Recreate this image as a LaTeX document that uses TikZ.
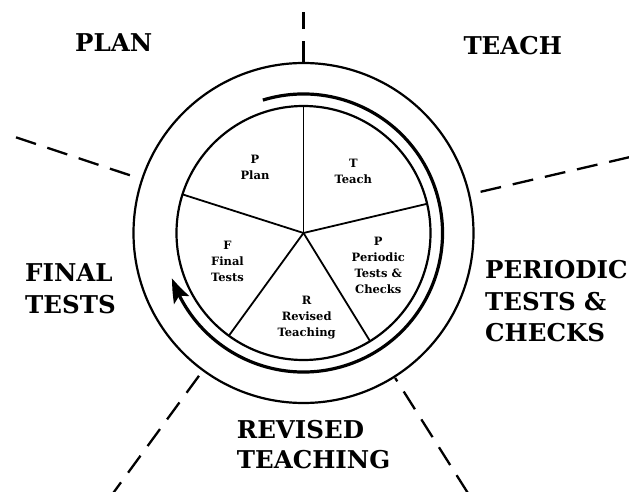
\documentclass[tikz,border=0pt]{standalone}
\usepackage{fontspec}
\setmainfont{DejaVu Serif}
\usetikzlibrary{arrows.meta,bending}
\begin{document}
\begin{tikzpicture}[x=1pt,y=1pt,
  big/.style={font=\fontsize{24.5}{30}\selectfont\bfseries, anchor=base west, inner sep=0pt},
  small/.style={font=\fontsize{11.5}{16}\selectfont\bfseries, align=center, inner sep=0pt},
  ring/.style={line width=2.2pt},
  divider/.style={line width=1.8pt},
  guide/.style={line width=2.3pt, dash pattern=on 21pt off 12pt},
  cycle/.style={line width=3.2pt, -{Stealth[length=24pt,width=17pt,inset=5pt,bend]}}]
\useasboundingbox (0,0) rectangle (629,-492);
\coordinate (C) at (303.5,-233);
% rings
\draw[ring] (C) circle[radius=170];
\draw[ring] (C) circle[radius=127];
% pie dividers
\foreach \a [count=\i] in {90,13.3,-58.4,-126,162.3}{
  \coordinate (d\i) at ([shift={(\a:127)}]C);
  \draw[divider] (C) -- (d\i);
}
% cycle arrow
\coordinate (arcS) at ([shift={(107:139)}]C);
\draw[cycle] (arcS) arc[start angle=107, end angle=-161, radius=139];
% dashed guide lines
\coordinate (gti) at ([shift={(90:171)}]C);
\coordinate (gto) at ([shift={(90:221)}]C);
\coordinate (gli) at ([shift={(161.6:183)}]C);
\coordinate (glo) at ([shift={(161.6:310)}]C);
\coordinate (gri) at ([shift={(13.1:181.8)}]C);
\coordinate (gro) at ([shift={(13.1:340)}]C);
\coordinate (glli) at ([shift={(233.8:177)}]C);
\coordinate (gllo) at ([shift={(233.8:325)}]C);
\coordinate (glri) at ([shift={(302.3:171.5)}]C);
\coordinate (glro) at ([shift={(302.3:320)}]C);
\draw[guide] (gti) -- (gto);
\draw[guide] (gli) -- (glo);
\draw[guide] (gri) -- (gro);
\draw[guide] (glli) -- (gllo);
\draw[guide, dash phase=17pt] (glri) -- (glro);
% outer labels
\node[big] (plan) at (75,-51.7) {PLAN};
\node[big] (teach) at (463.3,-55) {TEACH};
\node[big] (fin1) at (25,-281.7) {FINAL};
\node[big] (fin2) at (25,-313.3) {TESTS};
\node[big] (per1) at (485,-278.3) {PERIODIC};
\node[big] (per2) at (485,-310) {TESTS \&};
\node[big] (per3) at (485,-341.7) {CHECKS};
\node[big] (rev1) at (236.7,-438.3) {REVISED};
\node[big] (rev2) at (236.7,-468) {TEACHING};
% sector labels
\node[small] (sP) at (255,-167.7) {P\\Plan};
\node[small] (sT) at (353.3,-171.7) {T\\Teach};
\node[small] (sF) at (227.5,-261.3) {F\\Final\\Tests};
\node[small] (sPer) at (378.3,-265.2) {P\\Periodic\\Tests \&\\Checks};
\node[small] (sR) at (306.7,-317.2) {R\\Revised\\Teaching};
\end{tikzpicture}
\end{document}
